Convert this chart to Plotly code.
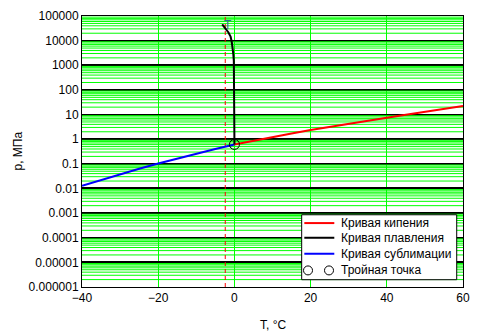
import plotly.graph_objects as go

# Phase-diagram curves of water (pressure values as labelled on the axis)
boil_T = [0.01, 5, 10, 15, 20, 25, 30, 35, 40, 45, 50, 55, 60]
boil_p = [0.6117, 0.8726, 1.2282, 1.7057, 2.3392, 3.1697, 4.2467, 5.6286, 7.3844, 9.8, 13.0, 17.0, 22.0]

melt_T = [0.01, 0.0, -0.05, -0.15, -0.3, -0.45, -0.7, -1.0, -1.6, -2.45, -3.2]
melt_p = [0.6117, 10, 300, 1500, 3000, 5000, 9000, 14500, 22000, 32000, 46000]

subl_T = [-40, -35, -30, -25, -20, -15, -10, -5, 0.01]
subl_p = [0.0129, 0.0224, 0.0381, 0.0635, 0.1035, 0.1653, 0.2600, 0.4018, 0.6117]

triple_T = [0.01]
triple_p = [0.6117]

marker_T = -2.4  # vertical dashed reference line, labelled "T"

x_ticks = [-40, -20, 0, 20, 40, 60]
y_decades = [-6, -5, -4, -3, -2, -1, 0, 1, 2, 3, 4, 5]
y_ticktext = ["0.000001", "0.00001", "0.0001", "0.001", "0.01", "0.1",
              "1", "10", "100", "1000", "10000", "100000"]

legend_names = ["Кривая кипения", "Кривая плавления", "Кривая сублимации", "Тройная точка"]

X_MIN, X_MAX = -40, 60
GREEN = "#00ff00"
FONT = "Liberation Sans, Arial, sans-serif"

fig = go.Figure()

# minor log grid lines (2..9 within each decade)
gx, gy = [], []
for d in y_decades[:-1]:
    for k in range(2, 10):
        v = k * 10.0 ** d
        gx += [X_MIN, X_MAX, None]
        gy += [v, v, None]
fig.add_trace(go.Scatter(x=gx, y=gy, mode="lines", line=dict(color=GREEN, width=1),
                         hoverinfo="skip", showlegend=False))

# dashed vertical reference line
fig.add_trace(go.Scatter(x=[marker_T, marker_T], y=[1e-6, 1e5], mode="lines",
                         line=dict(color="red", width=1, dash="4px,3px"), showlegend=False))

fig.add_trace(go.Scatter(x=subl_T, y=subl_p, mode="lines", line=dict(color="blue", width=2),
                         name=legend_names[2], showlegend=False))
fig.add_trace(go.Scatter(x=boil_T, y=boil_p, mode="lines", line=dict(color="red", width=2),
                         name=legend_names[0], showlegend=False))
fig.add_trace(go.Scatter(x=melt_T, y=melt_p, mode="lines", line=dict(color="black", width=2),
                         name=legend_names[1], showlegend=False))
fig.add_trace(go.Scatter(x=triple_T, y=triple_p, mode="markers",
                         marker=dict(symbol="circle-open", size=10, color="black",
                                     line=dict(width=1, color="black")),
                         name=legend_names[3], showlegend=False))

# "T" label at the top of the dashed line
fig.add_annotation(x=marker_T + 0.7, y=0.968, xref="x", yref="paper", text="T", showarrow=False,
                   xanchor="center", yanchor="middle",
                   font=dict(family=FONT, size=12, color="#2f6f8f"))

# axis titles
fig.add_annotation(x=0.5, y=-0.139, xref="paper", yref="paper", text="T, °C", showarrow=False,
                   xanchor="center", yanchor="middle", font=dict(family=FONT, size=12, color="black"))
fig.add_annotation(x=-0.1706, y=0.5, xref="paper", yref="paper", text="р, МПа", showarrow=False,
                   textangle=-90, xanchor="center", yanchor="middle",
                   font=dict(family=FONT, size=12, color="black"))

# legend box drawn in paper coordinates
shapes = [dict(type="rect", xref="paper", yref="paper", x0=0.5766, x1=0.9835, y0=0.0269, y1=0.2665,
               line=dict(color="black", width=1), fillcolor="white", layer="above")]
rows_y = [0.2359, 0.1817, 0.1227, 0.0612]
line_cols = ["red", "black", "blue"]
for yy, c in zip(rows_y[:3], line_cols):
    shapes.append(dict(type="line", xref="paper", yref="paper", x0=0.5835, x1=0.6622, y0=yy, y1=yy,
                       line=dict(color=c, width=2), layer="above"))
for cx in [0.5932, 0.6483]:
    shapes.append(dict(type="circle", xref="paper", yref="paper", xsizemode="pixel", ysizemode="pixel",
                       xanchor=cx, yanchor=rows_y[3], x0=-4.5, x1=4.5, y0=-4.5, y1=4.5,
                       line=dict(color="black", width=1), fillcolor="white", layer="above"))
for yy, name in zip(rows_y, legend_names):
    fig.add_annotation(x=0.6753, y=yy, xref="paper", yref="paper", text=name, showarrow=False,
                       xanchor="left", yanchor="middle", font=dict(family=FONT, size=12, color="black"))

fig.update_layout(
    width=483, height=335,
    margin=dict(l=82, r=20, t=16, b=48, autoexpand=False),
    paper_bgcolor="white", plot_bgcolor="white",
    font=dict(family=FONT, size=12, color="black"),
    shapes=shapes,
    showlegend=False,
    xaxis=dict(range=[X_MIN, X_MAX], tickvals=x_ticks, showgrid=True, gridcolor=GREEN, gridwidth=1,
               showline=True, linecolor="black", linewidth=1, mirror=True, zeroline=False,
               ticks="", automargin=False),
    yaxis=dict(type="log", range=[-6, 5], tickvals=[10.0 ** d for d in y_decades], ticktext=y_ticktext,
               showgrid=True, gridcolor="black", gridwidth=1.5,
               showline=True, linecolor="black", linewidth=1, mirror=True, zeroline=False,
               ticks="", automargin=False),
)

fig.write_html("out.html")
